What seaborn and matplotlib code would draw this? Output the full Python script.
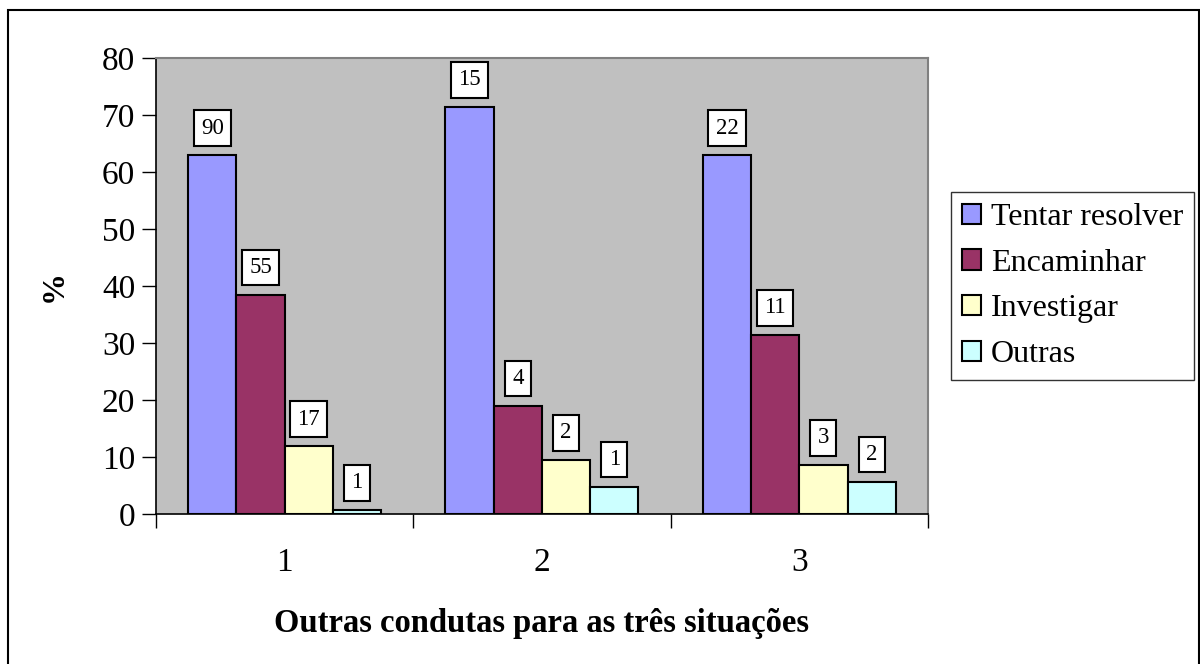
import matplotlib
matplotlib.use("Agg")
import matplotlib.pyplot as plt
from matplotlib.patches import Rectangle
import seaborn as sns
import pandas as pd

# Situations and response categories
situacoes = ["1", "2", "3"]
condutas = ["Tentar resolver", "Encaminhar", "Investigar", "Outras"]

# Percentage per category within each situation
pct_tentar = [62.9, 71.4, 62.9]
pct_encaminhar = [38.5, 19.0, 31.4]
pct_investigar = [11.9, 9.5, 8.6]
pct_outras = [0.7, 4.8, 5.7]

# Absolute counts shown above the bars
n_tentar = [90, 15, 22]
n_encaminhar = [55, 4, 11]
n_investigar = [17, 2, 3]
n_outras = [1, 1, 2]

cores = ["#9999FF", "#993366", "#FFFFCC", "#CCFFFF"]

pcts = [pct_tentar, pct_encaminhar, pct_investigar, pct_outras]
counts = [n_tentar, n_encaminhar, n_investigar, n_outras]
rows = []
for c, p_list, n_list in zip(condutas, pcts, counts):
    for s, p, n in zip(situacoes, p_list, n_list):
        rows.append({"situacao": s, "conduta": c, "pct": p, "n": n})
df = pd.DataFrame(rows)

sns.set_theme(style="white")
plt.rcParams["font.family"] = ["Liberation Serif", "DejaVu Serif"]
plt.rcParams.update({"text.color": "black", "axes.labelcolor": "black",
                     "xtick.color": "black", "ytick.color": "black"})

fig = plt.figure(figsize=(12, 6.64), dpi=100)
ax = fig.add_axes([0.13, 0.2259, 0.6433, 0.6867])

sns.barplot(data=df, x="situacao", y="pct", hue="conduta", order=situacoes,
            hue_order=condutas, palette=cores, width=0.75, edgecolor="black",
            linewidth=1.5, saturation=1, ax=ax, errorbar=None, legend=True)

ax.set_facecolor("#C0C0C0")
ax.set_xlim(-0.5, 2.5)
ax.set_ylim(0, 80)
ax.set_yticks(range(0, 81, 10))
ax.tick_params(axis="y", which="major", direction="out", length=10, width=1,
               color="black", labelsize=24, pad=5, left=True)

# Category boundaries carry the tick marks; labels sit at group centres
ax.set_xticks([-0.5, 0.5, 1.5, 2.5])
ax.set_xticklabels([])
ax.set_xticks([0, 1, 2], minor=True)
ax.set_xticklabels(situacoes, minor=True)
ax.tick_params(axis="x", which="major", direction="out", length=10, width=1,
               color="black", bottom=True)
ax.tick_params(axis="x", which="minor", length=0, labelsize=24, pad=24)

for side in ["left", "bottom"]:
    ax.spines[side].set_color("black")
    ax.spines[side].set_linewidth(1.2)
for side in ["top", "right"]:
    ax.spines[side].set_color("#808080")
    ax.spines[side].set_linewidth(1.5)

ax.set_ylabel("%", fontsize=23, fontweight="bold", labelpad=24)
ax.set_xlabel("Outras condutas para as três situações", fontsize=23.5,
              fontweight="bold", labelpad=22)

# Boxed count labels above each bar
for container, n_list in zip(ax.containers, counts):
    for bar, n in zip(container, n_list):
        x = bar.get_x() + bar.get_width() / 2
        y = bar.get_height()
        ax.annotate(str(n), (x, y), xytext=(0, 12), textcoords="offset points",
                    ha="center", va="bottom", fontsize=16.5,
                    bbox=dict(boxstyle="square,pad=0.32", fc="white",
                              ec="black", lw=1.5))

leg = ax.legend(loc="center left", bbox_to_anchor=(1.03, 0.5), frameon=True,
                fontsize=23, handlelength=0.6, handleheight=0.6,
                handletextpad=0.3, labelspacing=0.52, borderpad=0.35,
                fancybox=False, edgecolor="black", borderaxespad=0)
leg.get_frame().set_linewidth(1.0)

# Outer chart frame
fig.patches.append(Rectangle((8 / 1200, -0.05), 1191 / 1200, 1.05 - 10 / 664,
                             transform=fig.transFigure, fill=False,
                             edgecolor="black", linewidth=1.5))

fig.savefig("out.png", dpi=100)
